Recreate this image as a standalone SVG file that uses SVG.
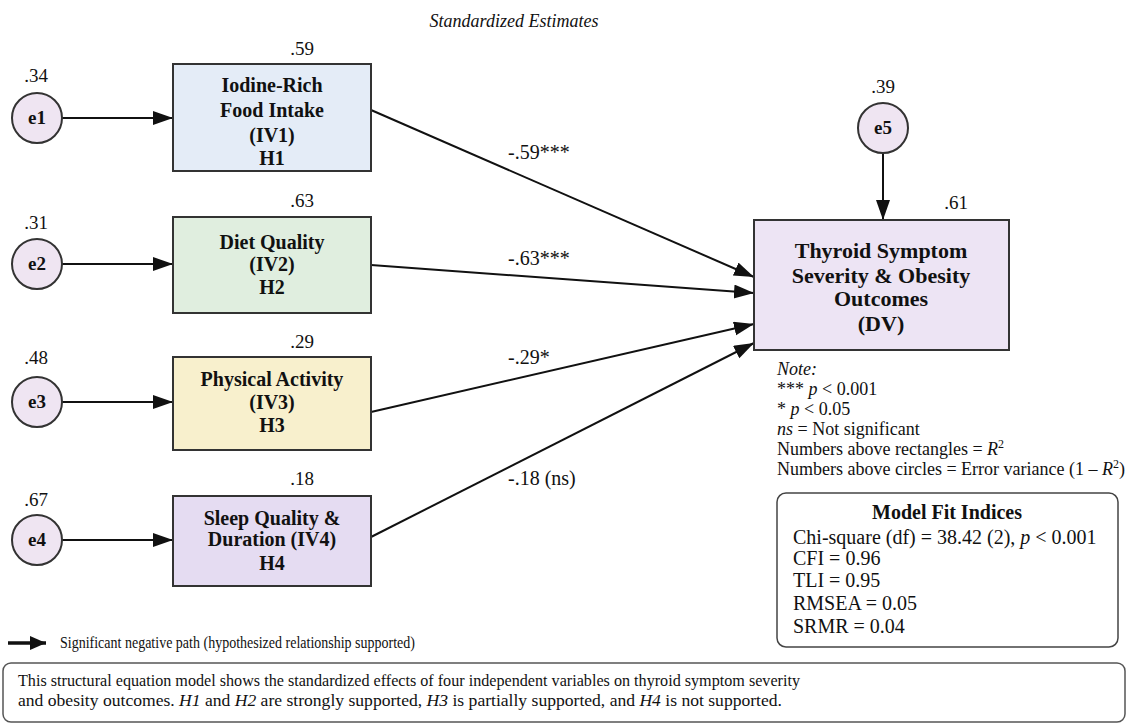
<svg xmlns="http://www.w3.org/2000/svg" width="1129" height="726" viewBox="0 0 1129 726">
<style>
text{font-family:"Liberation Serif","Times New Roman",serif;fill:#111}
.lbl{font-size:20px;font-weight:bold;text-anchor:middle}
.dvl{font-size:22px;font-weight:bold;text-anchor:middle}
.num{font-size:19px;text-anchor:middle}
.coef{font-size:20px}
.el{font-size:19px;font-weight:bold;text-anchor:middle}
.note{font-size:18px}
.fit{font-size:20px}
.cap{font-size:17px}
.box{stroke:#333;stroke-width:2}
.err{fill:#efe5f2;stroke:#333;stroke-width:2}
.path{stroke:#111;stroke-width:2;fill:none}
</style>
<defs>
<marker id="ah" markerUnits="userSpaceOnUse" markerWidth="22" markerHeight="16" refX="20" refY="7" orient="auto">
<path d="M0,0 L20,7 L0,14 z" fill="#111"/>
</marker>
<marker id="ahl" markerUnits="userSpaceOnUse" markerWidth="18" markerHeight="16" refX="16" refY="7" orient="auto">
<path d="M0,0 L16,7 L0,14 z" fill="#111"/>
</marker>
</defs>
<rect width="1129" height="726" fill="#fff"/>
<text x="514" y="27" style="font-size:18px;font-style:italic;text-anchor:middle">Standardized Estimates</text>

<g id="connectors">
<line class="path" x1="61" y1="118" x2="173" y2="118" marker-end="url(#ah)"/>
<line class="path" x1="61" y1="264" x2="173" y2="264" marker-end="url(#ah)"/>
<line class="path" x1="61" y1="402" x2="173" y2="402" marker-end="url(#ah)"/>
<line class="path" x1="61" y1="540" x2="173" y2="540" marker-end="url(#ah)"/>
<line class="path" x1="883" y1="153" x2="883" y2="220" marker-end="url(#ah)"/>
<line class="path" x1="371" y1="110" x2="754" y2="277" marker-end="url(#ah)"/>
<line class="path" x1="371" y1="265" x2="754" y2="293" marker-end="url(#ah)"/>
<line class="path" x1="371" y1="412" x2="754" y2="324" marker-end="url(#ah)"/>
<line class="path" x1="371" y1="537" x2="754" y2="343" marker-end="url(#ah)"/>
<text class="coef" x="508" y="159">-.59***</text>
<text class="coef" x="508" y="265">-.63***</text>
<text class="coef" x="508" y="364">-.29*</text>
<text class="coef" x="508" y="485">-.18 (ns)</text>
</g>

<g id="e1"><text class="num" x="36" y="82">.34</text><circle class="err" cx="37" cy="118" r="25"/><text class="el" x="37" y="124">e1</text></g>
<g id="e2"><text class="num" x="36" y="229">.31</text><circle class="err" cx="37" cy="264" r="25"/><text class="el" x="37" y="270">e2</text></g>
<g id="e3"><text class="num" x="36" y="364">.48</text><circle class="err" cx="37" cy="402" r="25"/><text class="el" x="37" y="408">e3</text></g>
<g id="e4"><text class="num" x="36" y="506">.67</text><circle class="err" cx="37" cy="540" r="25"/><text class="el" x="37" y="546">e4</text></g>
<g id="e5"><text class="num" x="883" y="93">.39</text><circle class="err" cx="883" cy="128" r="25"/><text class="el" x="883" y="134">e5</text></g>

<g id="iv1">
<text class="num" x="302" y="55">.59</text>
<rect class="box" x="173" y="64" width="198" height="107" fill="#e4ecf7"/>
<text class="lbl" x="272" y="92">Iodine-Rich</text>
<text class="lbl" x="272" y="117">Food Intake</text>
<text class="lbl" x="272" y="142">(IV1)</text>
<text class="lbl" x="272" y="165">H1</text>
</g>
<g id="iv2">
<text class="num" x="302" y="207">.63</text>
<rect class="box" x="173" y="217" width="198" height="96" fill="#e0eedf"/>
<text class="lbl" x="272" y="249">Diet Quality</text>
<text class="lbl" x="272" y="271">(IV2)</text>
<text class="lbl" x="272" y="294">H2</text>
</g>
<g id="iv3">
<text class="num" x="302" y="348">.29</text>
<rect class="box" x="173" y="357" width="198" height="93" fill="#f8f0cd"/>
<text class="lbl" x="272" y="386">Physical Activity</text>
<text class="lbl" x="272" y="409">(IV3)</text>
<text class="lbl" x="272" y="432">H3</text>
</g>
<g id="iv4">
<text class="num" x="302" y="485">.18</text>
<rect class="box" x="173" y="496" width="198" height="90" fill="#e5dcf2"/>
<text class="lbl" x="272" y="525">Sleep Quality &amp;</text>
<text class="lbl" x="272" y="546">Duration (IV4)</text>
<text class="lbl" x="272" y="570">H4</text>
</g>
<g id="dv">
<text class="num" x="956" y="209">.61</text>
<rect class="box" x="754" y="220" width="255" height="130" fill="#ede4f4"/>
<text class="dvl" x="881" y="258">Thyroid Symptom</text>
<text class="dvl" x="881" y="283">Severity &amp; Obesity</text>
<text class="dvl" x="881" y="306">Outcomes</text>
<text class="dvl" x="881" y="331">(DV)</text>
</g>

<g id="note">
<text class="note" x="777" y="375" font-style="italic">Note:</text>
<text class="note" x="777" y="395">*** <tspan font-style="italic">p</tspan> &lt; 0.001</text>
<text class="note" x="777" y="415">* <tspan font-style="italic">p</tspan> &lt; 0.05</text>
<text class="note" x="777" y="435"><tspan font-style="italic">ns</tspan> = Not significant</text>
<text class="note" x="777" y="455">Numbers above rectangles = <tspan font-style="italic">R</tspan><tspan font-size="12" dy="-7">2</tspan></text>
<text class="note" x="777" y="475">Numbers above circles = Error variance (1 – <tspan font-style="italic">R</tspan><tspan font-size="12" dy="-7">2</tspan><tspan dy="7">)</tspan></text>
</g>

<g id="fit">
<rect x="777" y="493" width="341" height="154" rx="9" fill="#fff" stroke="#444" stroke-width="1.5"/>
<text class="fit" x="947" y="519" font-weight="bold" text-anchor="middle">Model Fit Indices</text>
<text class="fit" x="793" y="544">Chi-square (df) = 38.42 (2), <tspan font-style="italic">p</tspan> &lt; 0.001</text>
<text class="fit" x="793" y="565">CFI = 0.96</text>
<text class="fit" x="793" y="587">TLI = 0.95</text>
<text class="fit" x="793" y="610">RMSEA = 0.05</text>
<text class="fit" x="793" y="633">SRMR = 0.04</text>
</g>

<g id="legend">
<line x1="8" y1="643" x2="46" y2="643" stroke="#111" stroke-width="3.5" marker-end="url(#ahl)"/>
<text class="cap" x="60" y="648" textLength="355" lengthAdjust="spacingAndGlyphs">Significant negative path (hypothesized relationship supported)</text>
</g>

<g id="caption">
<rect x="3" y="663" width="1122" height="59" rx="8" fill="#fff" stroke="#555" stroke-width="1.5"/>
<text class="cap" x="18" y="686" textLength="782" lengthAdjust="spacingAndGlyphs">This structural equation model shows the standardized effects of four independent variables on thyroid symptom severity</text>
<text class="cap" x="18" y="706" textLength="764" lengthAdjust="spacingAndGlyphs">and obesity outcomes. <tspan font-style="italic">H1</tspan> and <tspan font-style="italic">H2</tspan> are strongly supported, <tspan font-style="italic">H3</tspan> is partially supported, and <tspan font-style="italic">H4</tspan> is not supported.</text>
</g>
</svg>
